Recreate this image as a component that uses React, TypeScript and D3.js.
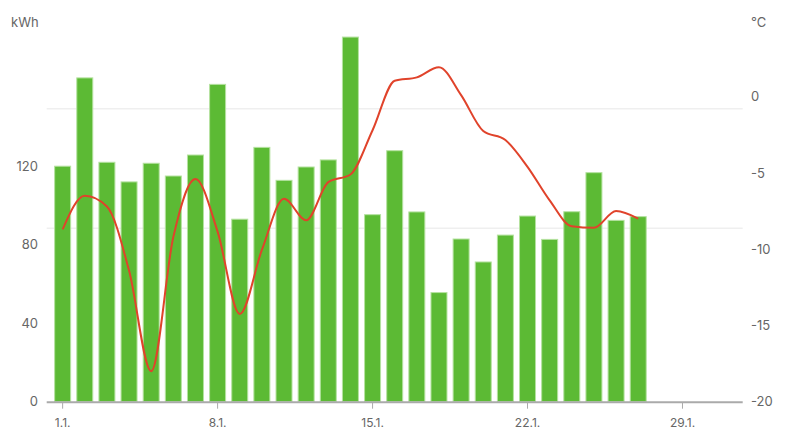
import React from "react";
import * as d3 from "d3";

// daily energy use (kWh) and mean outdoor temperature (°C), January
const days = d3.range(1, 28);
const energy = [120, 165, 122, 112, 121.5, 115, 125.7, 161.7, 93, 129.6, 112.8, 119.6, 123.2, 185.8, 95.3, 127.9, 96.7, 55.6, 82.9, 71.2, 84.9, 94.6, 82.7, 96.8, 116.7, 92.4, 94.3];
const temperature = [-8.7, -6.5, -7.2, -11.4, -18.0, -9.2, -5.4, -8.85, -14.25, -10.05, -6.7, -8.1, -5.6, -5.1, -2.2, 1.05, 1.27, 1.93, 0.1, -2.25, -2.84, -4.6, -6.8, -8.5, -8.6, -7.5, -8.0];
const kwhTicks = [0, 40, 80, 120];
const tempTicks = [-20, -15, -10, -5, 0];
const gridLines = [88.4, 149.3];
const dateTicks = [1, 8, 15, 22, 29];

const W = 791;
const H = 443;
const FONT = "Inter, 'Noto Sans', sans-serif";

export default function App() {
  const x = d3.scaleLinear().domain([0.28, 31.72]).range([46.7, 742.7]);
  const yKwh = d3.scaleLinear().domain([0, 120]).range([401.7, 166.2]);
  const yTemp = d3.scaleLinear().domain([-20, 0]).range([401.7, 96.7]);
  const barW = 16;

  const line = d3
    .line<number>()
    .x((_, i) => x(days[i]))
    .y(t => yTemp(t))
    .curve(d3.curveMonotoneX);

  return (
    <svg width={W} height={H} style={{ position: "absolute", left: 0, top: 0, fontFamily: FONT }}>
      <rect width={W} height={H} fill="#fff" />
      {gridLines.map(g => (
        <line key={g} x1={x.range()[0]} x2={x.range()[1]} y1={yKwh(g)} y2={yKwh(g)} stroke="#efefef" strokeWidth={1.5} />
      ))}
      {energy.map((v, i) => (
        <rect
          key={i}
          x={x(days[i]) - barW / 2}
          y={yKwh(v)}
          width={barW}
          height={yKwh(0) - yKwh(v)}
          fill="#5cba34"
          stroke="#b5e2a0"
          strokeWidth={1}
        />
      ))}
      <path d={line(temperature) ?? ""} fill="none" stroke="#e0432b" strokeWidth={2} />
      <line x1={x.range()[0]} x2={x.range()[1]} y1={yKwh(0) + 0.5} y2={yKwh(0) + 0.5} stroke="#aaa" strokeWidth={2} />
      {dateTicks.map(d => (
        <g key={d} transform={`translate(${x(d)},${yKwh(0)})`}>
          <line y1={1} y2={7} stroke="#aaa" strokeWidth={1} />
          <text y={25} textAnchor="middle" fontSize={12} fill="#666">{`${d}.1.`}</text>
        </g>
      ))}
      {kwhTicks.map(t => (
        <text key={t} x={38} y={yKwh(t)} dy="0.35em" textAnchor="end" fontSize={13} fill="#666">{t}</text>
      ))}
      {tempTicks.map(t => (
        <text key={t} x={751} y={yTemp(t)} dy="0.35em" textAnchor="start" fontSize={13} fill="#666">
          {t < 0 ? `-${-t}` : t}
        </text>
      ))}
      <text x={11} y={27} fontSize={13} fill="#666">kWh</text>
      <text x={751} y={27} fontSize={13} fill="#666">°C</text>
    </svg>
  );
}
